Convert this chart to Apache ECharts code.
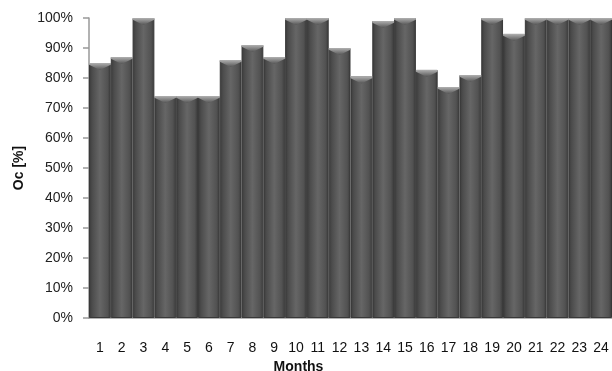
<!DOCTYPE html>
<html><head><meta charset="utf-8">
<script src="https://cdn.jsdelivr.net/npm/echarts@6/dist/echarts.min.js"></script>
<style>html,body{margin:0;padding:0;background:#fff}#c{width:612px;height:371px}</style>
</head><body><div id="c"></div>
<script>
const months = ['1','2','3','4','5','6','7','8','9','10','11','12','13','14','15','16','17','18','19','20','21','22','23','24'];
const ocValues = [85,87,100,74,74,74,86,91,87,100,100,90,80.5,99,100,82.7,77,81,100,94.7,100,100,100,100];
const yTicks = [0,10,20,30,40,50,60,70,80,90,100];

const chart = echarts.init(document.getElementById('c'), null, {renderer:'canvas'});
const font = 'Liberation Sans';
chart.setOption({
  animation:false,
  grid:{left:89,right:0,top:18,bottom:53,containLabel:false,outerBoundsMode:'none'},
  xAxis:{type:'category',data:months,
    name:'Months',nameLocation:'middle',nameGap:26,
    nameTextStyle:{fontFamily:font,fontSize:14,fontWeight:'bold',color:'#111',padding:[0,104,0,0]},
    axisLine:{lineStyle:{color:'#999',width:1.5}},axisTick:{show:false},
    axisLabel:{fontFamily:font,fontSize:14,color:'#111',margin:23,interval:0}},
  yAxis:{type:'value',min:0,max:100,interval:10,
    name:'Oc [%]',nameLocation:'middle',nameGap:62,nameRotate:90,
    nameTextStyle:{fontFamily:font,fontSize:14,fontWeight:'bold',color:'#111'},
    axisLine:{show:true,lineStyle:{color:'#999',width:1.5}},
    axisTick:{show:true,length:6,lineStyle:{color:'#999',width:1.5}},
    splitLine:{show:false},
    axisLabel:{fontFamily:font,fontSize:14,color:'#222',margin:16,formatter:v=>v+'%'}},
  series:[{type:'bar',data:ocValues,barCategoryGap:'0%',barGap:'-100%',
    itemStyle:{borderColor:'#383838',borderWidth:1,
      color:new echarts.graphic.LinearGradient(0,0,1,0,[
        {offset:0,color:'#3a3a3a'},{offset:0.15,color:'#4c4c4c'},{offset:0.5,color:'#666'},{offset:0.85,color:'#525252'},{offset:1,color:'#3a3a3a'}])}},
   {type:'pictorialBar',data:ocValues,barGap:'-100%',barCategoryGap:'0%',
    symbol:'path://M0,0 L20,0 L20,2 L10,8 L0,2 Z',symbolPosition:'end',
    symbolSize:['100%',7],symbolOffset:[0,0],z:3,
    itemStyle:{color:new echarts.graphic.LinearGradient(0,0,0,1,[
      {offset:0,color:'#b0b0b0'},{offset:1,color:'#555'}])}}]
});
</script></body></html>
